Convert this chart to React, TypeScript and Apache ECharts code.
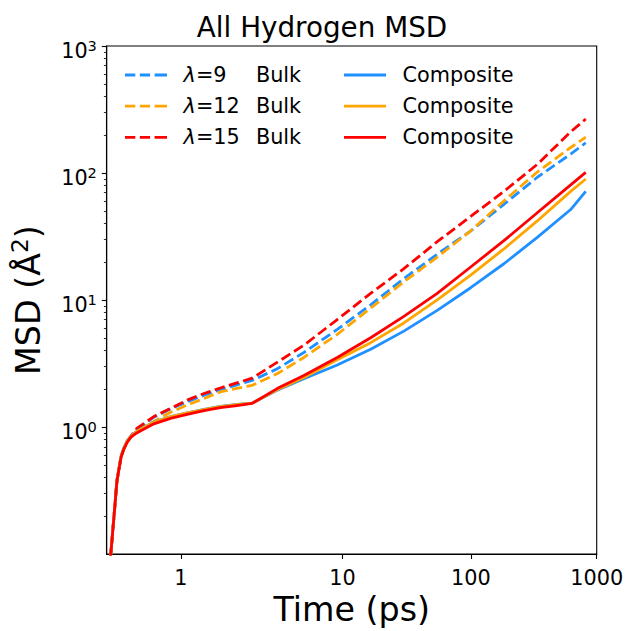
import React, { useEffect, useRef } from "react";
import * as echarts from "echarts";

// The reference's time axis is a shifted logarithmic scale: position = log10(t - TIME_OFFSET)
const TIME_OFFSET = 0.51;
const TIME_MIN = 0.636;
const TIME_MAX = 1000;

const TIME_PS = [
  0.645, 0.654, 0.662, 0.674, 0.682, 0.693, 0.706, 0.73, 0.809, 0.916, 1.06, 1.26, 1.52,
  1.88, 2.32, 3.37, 5.18, 9.12, 16.4, 29.7, 54.3, 99.8, 183, 337, 621, 818,
];

const BULK_9 = [
  0.0932, 0.1976, 0.376, 0.588, 0.67, 0.765, 0.84, 0.961, 1.196, 1.387, 1.58, 1.781,
  1.972, 2.149, 2.329, 2.871, 3.864, 5.87, 9.18, 14.76, 22.96, 34.96, 56.6, 92.6, 141.0,
  173.1,
];
const BULK_12 = [
  0.0932, 0.1976, 0.376, 0.585, 0.668, 0.76, 0.83, 0.936, 1.105, 1.308, 1.49, 1.68,
  1.89, 2.019, 2.13, 2.626, 3.533, 5.368, 8.64, 13.92, 21.77, 35.08, 60.3, 101.8, 158.9,
  191.7,
];
const BULK_15 = [
  0.0932, 0.1976, 0.376, 0.588, 0.67, 0.769, 0.845, 0.982, 1.209, 1.404, 1.629, 1.837,
  2.03, 2.227, 2.427, 3.232, 4.41, 7.02, 11.29, 17.66, 28.8, 45.5, 71.7, 117, 211, 266,
];
const COMP_9 = [
  0.0932, 0.2012, 0.383, 0.59, 0.68, 0.78, 0.85, 0.933, 1.095, 1.207, 1.296, 1.378,
  1.453, 1.506, 1.546, 1.948, 2.401, 3.084, 4.106, 5.693, 8.287, 12.5, 19.31, 31.12, 51.6,
  71.7,
];
const COMP_12 = [
  0.0932, 0.2012, 0.383, 0.588, 0.675, 0.776, 0.845, 0.928, 1.09, 1.202, 1.291, 1.374,
  1.45, 1.503, 1.544, 1.966, 2.458, 3.391, 4.619, 6.604, 10.04, 15.69, 25.25, 41.95, 71.7,
  89.8,
];
const COMP_15 = [
  0.0932, 0.1976, 0.376, 0.578, 0.666, 0.755, 0.833, 0.903, 1.061, 1.17, 1.257, 1.35,
  1.424, 1.477, 1.536, 2.008, 2.547, 3.533, 5.051, 7.445, 11.29, 18.2, 29.34, 48.66, 80.7,
  101.3,
];

const X_TICKS = [1, 10, 100, 1000];
const Y_TICKS = [1, 10, 100, 1000];
const Y_MINOR_TICKS = [
  0.2, 0.3, 0.4, 0.5, 0.6, 0.7, 0.8, 0.9,
  2, 3, 4, 5, 6, 7, 8, 9,
  20, 30, 40, 50, 60, 70, 80, 90,
  200, 300, 400, 500, 600, 700, 800, 900,
];
const Y_MIN = 0.1;
const Y_MAX = 1000;

const LAMBDAS = ["9", "12", "15"];
const COLORS = ["#1E90FF", "#FFA500", "#FF0000"];

const FONT = "DejaVu Sans";
const axisPos = (t: number) => Math.log10(t - TIME_OFFSET);

const DASH_ICON =
  "path://M0,0h10.3v2.8h-10.3z M14.8,0h10.3v2.8h-10.3z M29.6,0h10.3v2.8h-10.3z M39.9,0h2.1v2.8h-2.1z";
const SOLID_ICON = "path://M0,0h42v2.8h-42z";

export default function App() {
  const ref = useRef<HTMLDivElement>(null);
  useEffect(() => {
    if (!ref.current) return;
    const chart = echarts.init(ref.current, undefined, { renderer: "svg" });

    const mk = (id: string, ys: number[], color: string, dashed: boolean, z: number) => ({
      name: id,
      type: "line",
      data: TIME_PS.map((t, i) => [axisPos(t), ys[i]]),
      symbol: "none",
      showSymbol: false,
      smooth: false,
      clip: true,
      silent: true,
      z,
      lineStyle: { color, width: 2.8, type: dashed ? [10.3, 4.5] : "solid", cap: "butt", join: "round" },
      itemStyle: { color },
    });

    const bulk = [BULK_9, BULK_12, BULK_15];
    const comp = [COMP_9, COMP_12, COMP_15];
    const series: any[] = [];
    LAMBDAS.forEach((l, i) => series.push(mk("bulk" + l, bulk[i], COLORS[i], true, 2 + i)));
    LAMBDAS.forEach((l, i) => series.push(mk("comp" + l, comp[i], COLORS[i], false, 5 + i)));

    const legendText: Record<string, string> = {};
    LAMBDAS.forEach((l) => {
      legendText["bulk" + l] = `{g| }{l|λ}{n|=${l}}{b|Bulk}`;
      legendText["comp" + l] = `{g| }{b|Composite}`;
    });
    const txt = { fontFamily: FONT, fontSize: 20.8, color: "#000" };
    const legendBase = {
      orient: "vertical",
      top: 64,
      itemWidth: 42,
      itemHeight: 2.8,
      itemGap: 9.2,
      padding: 0,
      selectedMode: false,
      formatter: (n: string) => legendText[n],
      textStyle: {
        ...txt,
        lineHeight: 22,
        rich: {
          g: { ...txt, width: 11.6, lineHeight: 22 },
          l: { ...txt, fontStyle: "italic", width: 12.3, lineHeight: 22 },
          n: { ...txt, width: 60, lineHeight: 22 },
          b: { ...txt, lineHeight: 22 },
        },
      },
    };

    const lineBlack = { color: "#000", width: 1.1 };

    chart.setOption({
      animation: false,
      backgroundColor: "#fff",
      grid: {
        left: 106.7,
        right: 32.3,
        top: 46,
        bottom: 70,
        show: true,
        borderColor: "#000",
        borderWidth: 1.1,
        backgroundColor: "transparent",
      },
      graphic: [
        {
          type: "text",
          x: 322,
          y: 27,
          style: {
            text: "All Hydrogen MSD",
            fontFamily: FONT,
            fontSize: 27.8,
            fill: "#000",
            textAlign: "center",
            textVerticalAlign: "middle",
          },
        },
      ],
      legend: [
        {
          ...legendBase,
          left: 125,
          data: LAMBDAS.map((l) => ({ name: "bulk" + l, icon: DASH_ICON })),
        },
        {
          ...legendBase,
          left: 344,
          data: LAMBDAS.map((l) => ({ name: "comp" + l, icon: SOLID_ICON })),
        },
      ],
      xAxis: {
        type: "value",
        min: axisPos(TIME_MIN),
        max: axisPos(TIME_MAX),
        name: "Time (ps)",
        nameLocation: "middle",
        nameGap: 37,
        nameTextStyle: { fontFamily: FONT, fontSize: 33.3, color: "#000" },
        axisLine: { show: true, onZero: false, lineStyle: lineBlack },
        axisTick: {
          show: true,
          inside: false,
          length: 4.9,
          lineStyle: lineBlack,
          customValues: X_TICKS.map(axisPos),
        },
        axisLabel: {
          customValues: X_TICKS.map(axisPos),
          formatter: (v: number) => String(Math.round(Math.pow(10, v) + TIME_OFFSET)),
          margin: 13,
          fontFamily: FONT,
          fontSize: 20.8,
          color: "#000",
        },
        splitLine: { show: false },
      },
      yAxis: [
        {
          type: "log",
          logBase: 10,
          min: Y_MIN,
          max: Y_MAX,
          position: "left",
          name: "{a|MSD (Å}{s|2}{a|)}",
          nameLocation: "middle",
          nameGap: 58.5,
          nameTextStyle: {
            rich: {
              a: { fontFamily: FONT, fontSize: 33.3, color: "#000", lineHeight: 40 },
              s: { fontFamily: FONT, fontSize: 23.3, color: "#000", lineHeight: 30, verticalAlign: "top" },
            },
          },
          axisLine: { show: true, onZero: false, lineStyle: lineBlack },
          axisTick: { show: true, inside: false, length: 4.9, lineStyle: lineBlack, customValues: Y_TICKS },
          axisLabel: {
            customValues: Y_TICKS,
            margin: 9.8,
            padding: [9, 0, 0, 0],
            formatter: (v: number) => `{b|10}{s|${Math.round(Math.log10(v))}}`,
            rich: {
              b: { fontFamily: FONT, fontSize: 20.8, color: "#000", lineHeight: 26 },
              s: { fontFamily: FONT, fontSize: 14.6, color: "#000", lineHeight: 18, verticalAlign: "top" },
            },
          },
          splitLine: { show: false },
        },
        {
          type: "log",
          logBase: 10,
          min: Y_MIN,
          max: Y_MAX,
          position: "left",
          axisLine: { show: false, onZero: false },
          axisTick: {
            show: true,
            inside: false,
            length: 2.8,
            lineStyle: { color: "#000", width: 0.8 },
            customValues: Y_MINOR_TICKS,
          },
          axisLabel: { show: false },
          splitLine: { show: false },
        },
      ],
      series,
    });
    return () => chart.dispose();
  }, []);
  return <div ref={ref} style={{ width: 629, height: 631, position: "fixed", left: 0, top: 0 }} />;
}
